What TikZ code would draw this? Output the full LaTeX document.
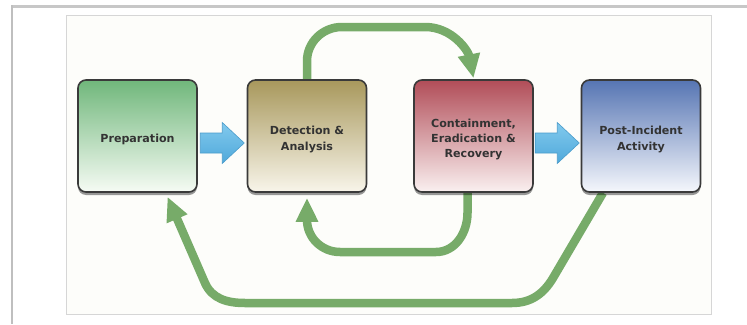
\documentclass[tikz,border=0pt]{standalone}
\usepackage{fontspec}
\setmainfont{DejaVu Sans}
\usetikzlibrary{arrows.meta,calc,shadows}
\pgfdeclarelayer{back}
\pgfdeclarelayer{mid}
\pgfsetlayers{back,mid,main}
\definecolor{txtc}{HTML}{333333}
\definecolor{bord}{HTML}{3A3A3A}
\definecolor{grn}{HTML}{77AB69}
\definecolor{bluA}{HTML}{82CAEE}
\definecolor{bluB}{HTML}{4FA8DA}
\definecolor{bluD}{HTML}{4A9CCB}
\definecolor{gTop}{HTML}{70B77B}
\definecolor{gBot}{HTML}{F6FBF4}
\definecolor{oTop}{HTML}{A8985C}
\definecolor{oBot}{HTML}{F8F5EA}
\definecolor{rTop}{HTML}{B14D58}
\definecolor{rBot}{HTML}{FAF0F0}
\definecolor{bTop}{HTML}{5675B3}
\definecolor{bBot}{HTML}{F5F7FC}
\begin{document}
\begin{tikzpicture}[x=1pt,y=-1pt,
  phase/.style={rectangle, rounded corners=8pt, draw=bord, line width=1.6pt,
    minimum width=119pt, minimum height=112pt, inner sep=2pt,
    drop shadow={shadow xshift=0pt, shadow yshift=-3pt, fill=black, opacity=0.4}},
  txt/.style={yshift=-3.5pt, align=center, text=txtc,
    font=\bfseries\fontsize{11.1}{15.3}\selectfont},
  loop/.style={draw=grn, line width=8.5pt,
    -{Triangle[length=24pt,width=21pt]}},
  bluearr/.style={top color=bluA, bottom color=bluB, draw=bluD, line width=0.6pt, line join=miter}]
\useasboundingbox (0,0) rectangle (747,324);
\begin{pgfonlayer}{back}
  \fill[white] (0,0) rectangle (747,324);
  \draw[draw=black!22, line width=3pt] (11,6.5) -- (747,6.5);
  \draw[draw=black!25, line width=2.5pt] (12,5) -- (12,324);
  \draw[draw=black!16, fill={rgb,255:red,253;green,253;blue,250}, line width=1pt] (66.5,15) rectangle (711,314);
\end{pgfonlayer}

\node[phase, top color=gTop, bottom color=gBot,
  label={[txt]center:Preparation}] (prep) at (137.5,136) {};
\node[phase, top color=oTop, bottom color=oBot,
  label={[txt]center:Detection \&\\Analysis}] (det) at (307,136) {};
\node[phase, top color=rTop, bottom color=rBot,
  label={[txt]center:Containment,\\Eradication \&\\Recovery}] (cont) at (473.5,136) {};
\node[phase, top color=bTop, bottom color=bBot,
  label={[txt]center:Post-Incident\\Activity}] (post) at (641,136) {};

% blue block arrows
\begin{scope}[shift={($(prep.east)!.5!(det.west)+(0,7)$)}]
  \path[bluearr] (-22,-10) -- (0,-10) -- (0,-20.5) -- (22,0) -- (0,20.5) -- (0,10) -- (-22,10) -- cycle;
\end{scope}
\begin{scope}[shift={($(cont.east)!.5!(post.west)+(0,7)$)}]
  \path[bluearr] (-22,-10) -- (0,-10) -- (0,-20.5) -- (22,0) -- (0,20.5) -- (0,10) -- (-22,10) -- cycle;
\end{scope}

\begin{pgfonlayer}{mid}
  % top loop: Detection -> Containment
  \draw[loop] (det.north) -- ++(0,-18) to[out=90,in=180] (342,27) -- (425,27)
     to[out=0,in=101] ($(cont.north)+(0,-1)$);
  % middle loop: Containment -> Detection
  \draw[loop, shorten >=2pt] ($(cont.south)+(-6,0)$) -- ++(0,20) to[out=-90,in=0] (436,252) -- (340,252)
     to[out=180,in=-90] ($(det.south)+(0,27)$) -- ($(det.south)+(0,3)$);
  % outer loop: Post-Incident -> Preparation
  \coordinate (ptip) at ($(prep.south)+(30,4)$);
  \draw[loop] ($(post.south)+(-38,0)$) -- (553,278) to[out=-121,in=0] (512,303) -- (245,303)
     to[out=180,in=-66] (205,283) -- (ptip);
\end{pgfonlayer}
\end{tikzpicture}
\end{document}
